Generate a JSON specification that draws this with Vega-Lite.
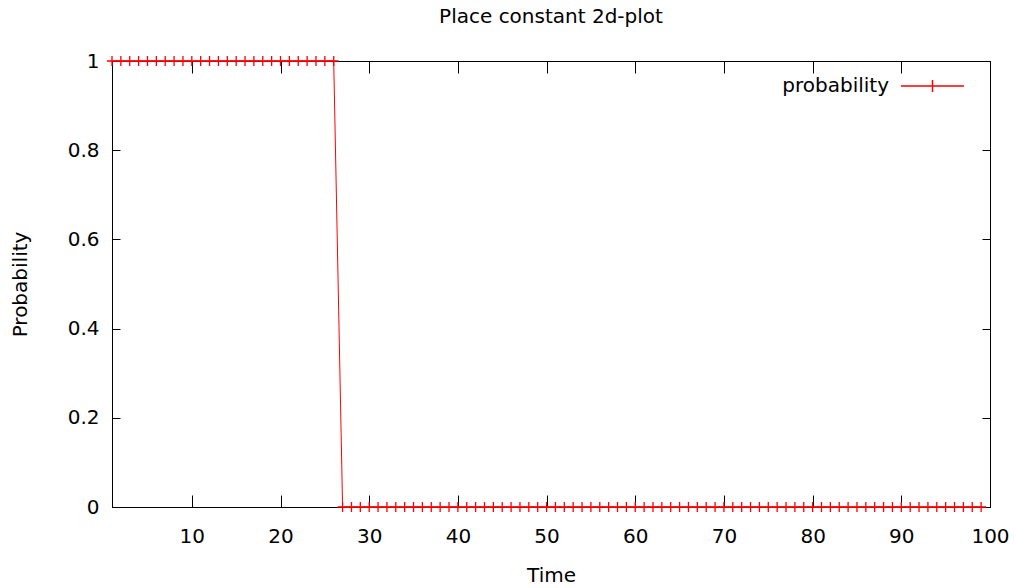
{
  "$schema": "https://vega.github.io/schema/vega-lite/v6.json",
  "autosize": "none",
  "width": 878,
  "height": 446,
  "padding": {"left": 112, "top": 61, "right": 24, "bottom": 81},
  "background": "white",
  "title": {
    "text": "Place constant 2d-plot",
    "font": "DejaVu Sans",
    "fontSize": 20,
    "fontWeight": "normal",
    "color": "black",
    "offset": 24,
    "anchor": "middle"
  },
  "config": {
    "view": {"stroke": "black", "strokeWidth": 1},
    "axis": {
      "labelFont": "DejaVu Sans",
      "labelFontSize": 20,
      "labelColor": "black",
      "labelFlush": false,
      "labelOverlap": false,
      "titleFont": "DejaVu Sans",
      "titleFontSize": 20,
      "titleFontWeight": "normal",
      "titleColor": "black",
      "domainColor": "black",
      "tickColor": "black",
      "grid": false
    },
    "legend": {
      "labelFont": "DejaVu Sans",
      "labelFontSize": 20,
      "labelColor": "black"
    }
  },
  "data": {
    "values": [
      {"t": 1, "p": 1}, {"t": 2, "p": 1}, {"t": 3, "p": 1}, {"t": 4, "p": 1}, {"t": 5, "p": 1},
      {"t": 6, "p": 1}, {"t": 7, "p": 1}, {"t": 8, "p": 1}, {"t": 9, "p": 1}, {"t": 10, "p": 1},
      {"t": 11, "p": 1}, {"t": 12, "p": 1}, {"t": 13, "p": 1}, {"t": 14, "p": 1}, {"t": 15, "p": 1},
      {"t": 16, "p": 1}, {"t": 17, "p": 1}, {"t": 18, "p": 1}, {"t": 19, "p": 1}, {"t": 20, "p": 1},
      {"t": 21, "p": 1}, {"t": 22, "p": 1}, {"t": 23, "p": 1}, {"t": 24, "p": 1}, {"t": 25, "p": 1},
      {"t": 26, "p": 1}, {"t": 27, "p": 0}, {"t": 28, "p": 0}, {"t": 29, "p": 0}, {"t": 30, "p": 0},
      {"t": 31, "p": 0}, {"t": 32, "p": 0}, {"t": 33, "p": 0}, {"t": 34, "p": 0}, {"t": 35, "p": 0},
      {"t": 36, "p": 0}, {"t": 37, "p": 0}, {"t": 38, "p": 0}, {"t": 39, "p": 0}, {"t": 40, "p": 0},
      {"t": 41, "p": 0}, {"t": 42, "p": 0}, {"t": 43, "p": 0}, {"t": 44, "p": 0}, {"t": 45, "p": 0},
      {"t": 46, "p": 0}, {"t": 47, "p": 0}, {"t": 48, "p": 0}, {"t": 49, "p": 0}, {"t": 50, "p": 0},
      {"t": 51, "p": 0}, {"t": 52, "p": 0}, {"t": 53, "p": 0}, {"t": 54, "p": 0}, {"t": 55, "p": 0},
      {"t": 56, "p": 0}, {"t": 57, "p": 0}, {"t": 58, "p": 0}, {"t": 59, "p": 0}, {"t": 60, "p": 0},
      {"t": 61, "p": 0}, {"t": 62, "p": 0}, {"t": 63, "p": 0}, {"t": 64, "p": 0}, {"t": 65, "p": 0},
      {"t": 66, "p": 0}, {"t": 67, "p": 0}, {"t": 68, "p": 0}, {"t": 69, "p": 0}, {"t": 70, "p": 0},
      {"t": 71, "p": 0}, {"t": 72, "p": 0}, {"t": 73, "p": 0}, {"t": 74, "p": 0}, {"t": 75, "p": 0},
      {"t": 76, "p": 0}, {"t": 77, "p": 0}, {"t": 78, "p": 0}, {"t": 79, "p": 0}, {"t": 80, "p": 0},
      {"t": 81, "p": 0}, {"t": 82, "p": 0}, {"t": 83, "p": 0}, {"t": 84, "p": 0}, {"t": 85, "p": 0},
      {"t": 86, "p": 0}, {"t": 87, "p": 0}, {"t": 88, "p": 0}, {"t": 89, "p": 0}, {"t": 90, "p": 0},
      {"t": 91, "p": 0}, {"t": 92, "p": 0}, {"t": 93, "p": 0}, {"t": 94, "p": 0}, {"t": 95, "p": 0},
      {"t": 96, "p": 0}, {"t": 97, "p": 0}, {"t": 98, "p": 0}, {"t": 99, "p": 0}
    ]
  },
  "encoding": {
    "x": {"field": "t", "type": "quantitative", "scale": {"domain": [1, 100], "nice": false, "zero": false}},
    "y": {"field": "p", "type": "quantitative", "scale": {"domain": [0, 1], "nice": false}},
    "color": {"datum": "probability", "type": "nominal", "scale": {"range": ["#ff0000"]}}
  },
  "layer": [
    {
      "mark": {"type": "line", "strokeWidth": 1, "clip": false},
      "encoding": {
        "x": {
          "field": "t", "type": "quantitative",
          "axis": {"orient": "bottom", "values": [10, 20, 30, 40, 50, 60, 70, 80, 90, 100], "title": "Time", "tickSize": -12, "labelPadding": 31, "titlePadding": 19}
        },
        "y": {
          "field": "p", "type": "quantitative",
          "axis": {"orient": "left", "values": [0, 0.2, 0.4, 0.6, 0.8, 1], "format": "~g", "title": "Probability", "tickSize": -8, "labelPadding": 21, "titlePadding": 37}
        },
        "color": {
          "datum": "probability", "type": "nominal",
          "legend": {
            "title": null,
            "orient": "none",
            "legendX": 788,
            "legendY": -7.5,
            "symbolType": "M-1,0L1,0M0,-0.19L0,0.19",
            "symbolSize": 3969,
            "symbolStrokeWidth": 1.5,
            "labelAlign": "right",
            "labelOffset": -76,
            "padding": 0
          }
        }
      }
    },
    {
      "mark": {"type": "point", "shape": "M-1,0L1,0M0,-1L0,1", "size": 100, "strokeWidth": 1.3, "filled": false, "opacity": 1, "clip": false},
      "encoding": {
        "x": {
          "field": "t", "type": "quantitative",
          "axis": {"orient": "top", "values": [10, 20, 30, 40, 50, 60, 70, 80, 90, 100], "labels": false, "title": null, "domain": false, "tickSize": -12}
        },
        "y": {
          "field": "p", "type": "quantitative",
          "axis": {"orient": "right", "values": [0, 0.2, 0.4, 0.6, 0.8, 1], "labels": false, "title": null, "domain": false, "tickSize": -8}
        },
        "color": {"datum": "probability", "type": "nominal", "legend": null}
      }
    }
  ],
  "resolve": {"axis": {"x": "independent", "y": "independent"}}
}
